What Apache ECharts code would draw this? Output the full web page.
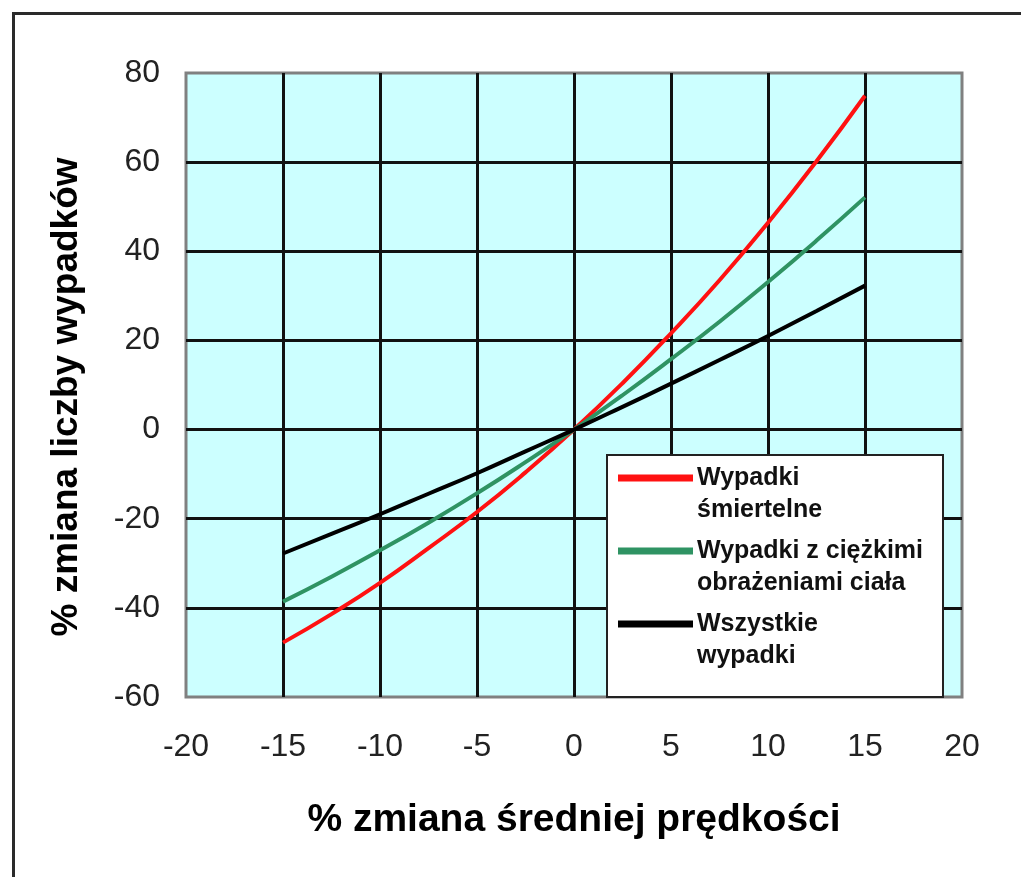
<!DOCTYPE html>
<html>
<head>
<meta charset="utf-8">
<script src="https://cdn.jsdelivr.net/npm/echarts@6/dist/echarts.min.js"></script>
<style>html,body{margin:0;padding:0;background:#fff;}#c{width:1021px;height:877px;}</style>
</head>
<body>
<div id="c"></div>
<script>
// % change in mean speed
var speedChange = [-15, -12.5, -10, -7.5, -5, -2.5, 0, 2.5, 5, 7.5, 10, 12.5, 15];
// % change in number of accidents
var fatal   = [-47.8, -41.4, -34.4, -26.6, -18.5, -9.6, 0, 10.4, 21.6, 33.5, 46.4, 60.2, 74.9];
var serious = [-38.6, -33.0, -27.1, -20.9, -14.3, -7.3, 0, 7.7, 15.8, 24.2, 33.1, 42.4, 52.1];
var allAcc  = [-27.8, -23.4, -19.0, -14.4, -9.8, -4.9, 0, 5.1, 10.3, 15.6, 21.0, 26.6, 32.3];
var seriesNames = ['Wypadki\nśmiertelne', 'Wypadki z ciężkimi\nobrażeniami ciała', 'Wszystkie\nwypadki'];
var seriesColors = ['#ff1111', '#2f9363', '#000000'];
var xTitle = '% zmiana średniej prędkości';
var yTitle = '% zmiana liczby wypadków';

function pairs(ys) { return speedChange.map(function (x, i) { return [x, ys[i]]; }); }
var allData = [fatal, serious, allAcc];

var chart = echarts.init(document.getElementById('c'), null, {renderer: 'canvas'});
var font = 'Liberation Sans, Arial, sans-serif';

var legendX = 607, legendY = 455, legendW = 336, legendH = 242;
var itemY = [478, 551, 624];
var graphics = [
  {type: 'rect', left: 11, top: 11, shape: {width: 1100, height: 1000}, style: {fill: 'none', stroke: '#2a2a2a', lineWidth: 3}, z: 0, silent: true},
  {type: 'rect', shape: {x: legendX, y: legendY, width: legendW, height: legendH}, style: {fill: '#ffffff', stroke: '#222', lineWidth: 2}, z: 100}
];
seriesNames.forEach(function (n, i) {
  graphics.push({type: 'line', shape: {x1: 618, y1: itemY[i], x2: 693, y2: itemY[i]}, style: {stroke: seriesColors[i], lineWidth: 7}, z: 101});
  graphics.push({type: 'text', x: 697, y: itemY[i] - 16, style: {text: n, font: 'bold 25px ' + font, fill: '#111', lineHeight: 32, textVerticalAlign: 'top'}, z: 101});
});

chart.setOption({
  animation: false,
  backgroundColor: '#ffffff',
  grid: {left: 186, right: 59, top: 73, bottom: 180, show: true, backgroundColor: '#ccffff', borderColor: '#808080', borderWidth: 3},
  xAxis: {
    type: 'value', min: -20, max: 20, interval: 5,
    axisLine: {show: false}, axisTick: {show: false},
    axisLabel: {color: '#222', fontSize: 32, fontFamily: font, margin: 34},
    splitLine: {show: true, showMinLine: false, showMaxLine: false, lineStyle: {color: '#111', width: 3}},
    name: xTitle, nameLocation: 'middle', nameGap: 104,
    nameTextStyle: {color: '#000', fontSize: 39, fontWeight: 'bold', fontFamily: font, verticalAlign: 'top'}
  },
  yAxis: {
    type: 'value', min: -60, max: 80, interval: 20,
    axisLine: {show: false}, axisTick: {show: false},
    axisLabel: {color: '#222', fontSize: 32, fontFamily: font, margin: 26},
    splitLine: {show: true, showMinLine: false, showMaxLine: false, lineStyle: {color: '#111', width: 3}},
    name: yTitle, nameLocation: 'middle', nameGap: 101, nameRotate: 90,
    nameTextStyle: {color: '#000', fontSize: 37, fontWeight: 'bold', fontFamily: font, padding: [0, 24, 0, 0]}
  },
  graphic: graphics,
  series: allData.map(function (d, i) {
    return {type: 'line', name: seriesNames[i], data: pairs(d), smooth: true, showSymbol: false,
      lineStyle: {color: seriesColors[i], width: 4}, z: 3};
  })
});
</script>
</body>
</html>
